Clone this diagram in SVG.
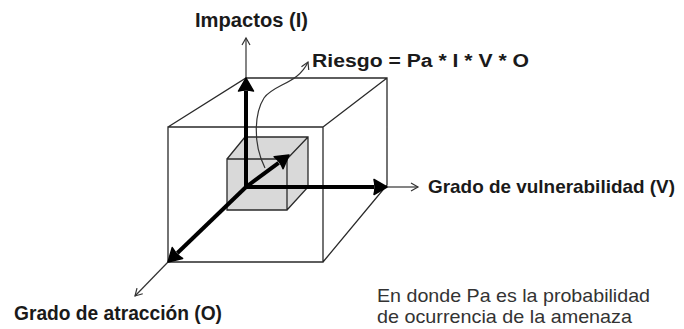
<svg xmlns="http://www.w3.org/2000/svg" width="684" height="329" viewBox="0 0 684 329">
<style>
.edge{fill:none;stroke:#2a2a2a;stroke-width:1.3;stroke-linecap:round}
.thick{fill:none;stroke:#000;stroke-width:4}
.thin{fill:none;stroke:#333;stroke-width:1.2}
.lbl{font-family:"Liberation Sans",Arial,sans-serif;font-weight:bold;fill:#1a1a1a}
.note{font-family:"Liberation Sans",Arial,sans-serif;fill:#333}
</style>
<defs>
<marker id="big" markerUnits="userSpaceOnUse" markerWidth="20" markerHeight="20" refX="0" refY="0" viewBox="-2 -10 18 20" orient="auto">
<path d="M0,-7.5 L13,0 L0,7.5 Q2,0 0,-7.5 Z" fill="#000" stroke="#000" stroke-width="1.5" stroke-linejoin="round"/>
</marker>
<marker id="open" markerUnits="userSpaceOnUse" markerWidth="12" markerHeight="12" refX="0" refY="0" viewBox="-9 -6 10 12" orient="auto">
<path d="M-7,-4 L0,0 L-7,4" fill="none" stroke="#333" stroke-width="1.2"/>
</marker>
</defs>
<g id="inner-cube">
<path d="M227,159 L245,137 L308,137 L308,187 L287,210 L227,210 Z" fill="#d9d9d9"/>
<path class="edge" d="M227,159 H287 V210 H227 Z M227,159 L245,137 H308 V187 L287,210 M287,159 L308,137"/>
</g>
<g id="outer-cube">
<path class="edge" d="M168,127 H323 V262 H168 Z M168,127 L246,78 H387 V185 L323,262 M323,127 L387,78"/>
</g>
<g id="connectors">
<line class="thin" x1="246" y1="78" x2="246" y2="38" marker-end="url(#open)"/>
<line class="thin" x1="387" y1="187" x2="418" y2="187" marker-end="url(#open)"/>
<line class="thin" x1="168" y1="262" x2="135" y2="296" marker-end="url(#open)"/>
<line class="thick" x1="246" y1="187" x2="246" y2="91" marker-end="url(#big)"/>
<line class="thick" x1="246" y1="187" x2="374" y2="187" marker-end="url(#big)"/>
<line class="thick" x1="246" y1="187" x2="177.4" y2="253" marker-end="url(#big)"/>
<line class="thick" x1="246" y1="187" x2="278.6" y2="162.8" marker-end="url(#big)"/>
<path class="thin" d="M265,168 C252,142 255,112 264,98 C274,84 298,84 308,62" stroke-width="1" marker-end="url(#open)"/>
</g>
<g id="label-impactos"><text class="lbl" x="195" y="27" font-size="20" textLength="113" lengthAdjust="spacingAndGlyphs">Impactos (I)</text></g>
<g id="label-riesgo"><text class="lbl" x="312" y="67" font-size="18" textLength="217" lengthAdjust="spacingAndGlyphs">Riesgo = Pa * I * V * O</text></g>
<g id="label-vulnerabilidad"><text class="lbl" x="428" y="193" font-size="19" textLength="247" lengthAdjust="spacingAndGlyphs">Grado de vulnerabilidad (V)</text></g>
<g id="label-atraccion"><text class="lbl" x="14" y="320" font-size="20" textLength="208" lengthAdjust="spacingAndGlyphs">Grado de atracción (O)</text></g>
<g id="note">
<text class="note" x="377" y="302" font-size="19" textLength="273" lengthAdjust="spacingAndGlyphs">En donde Pa es la probabilidad</text>
<text class="note" x="377" y="323" font-size="19" textLength="255" lengthAdjust="spacingAndGlyphs">de ocurrencia de la amenaza</text>
</g>
</svg>
